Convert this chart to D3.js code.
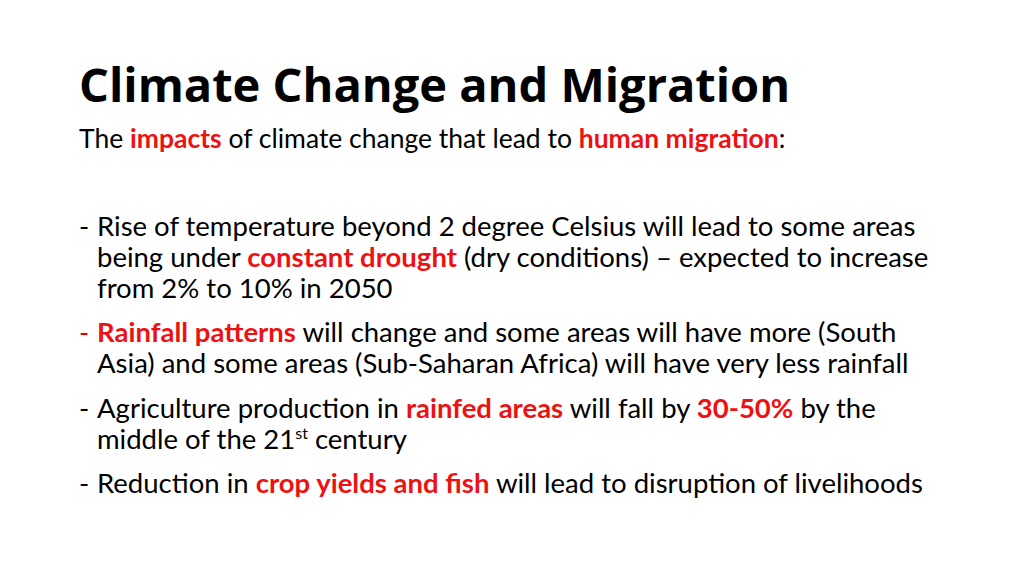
<!DOCTYPE html>
<html><head><meta charset="utf-8">
<script src="https://cdn.jsdelivr.net/npm/d3@7"></script>
<style>body{margin:0;background:#fff}</style></head>
<body><svg id="s" width="1024" height="575"></svg>
<script>
const title = "Climate Change and Migration";
const subtitle = [["The ",0],["impacts",1],[" of climate change that lead to ",0],["human migration",1],[":",0]];
const bullets = [
  [[["Rise of temperature beyond 2 degree Celsius will lead to some areas",0]],
   [["being under ",0],["constant drought",1],[" (dry conditions) – expected to increase",0]],
   [["from 2% to 10% in 2050",0]]],
  [[["Rainfall patterns",1],[" will change and some areas will have more (South",0]],
   [["Asia) and some areas (Sub-Saharan Africa) will have very less rainfall",0]]],
  [[["Agriculture production in ",0],["rainfed areas",1],[" will fall by ",0],["30-50%",1],[" by the",0]],
   [["middle of the 21",0],["st",2],[" century",0]]],
  [[["Reduction in ",0],["crop yields and fish",1],[" will lead to disruption of livelihoods",0]]]
];
const bulletColors = ["#000","#e00","#000","#000"];
const lineStarts = [236,342,418,493];
const lh = 31;
const svg = d3.select("#s");
const red = "#ee1111";
svg.append("text").attr("x",79).attr("y",102).attr("font-family","Open Sans").attr("font-weight","bold")
  .attr("font-size",47).text(title);
function seg(t, parts){
  let prevSup=false;
  parts.forEach(([s,k])=>{
    const ts=t.append("tspan").text(s);
    if(k===1) ts.attr("fill",red).attr("font-weight","bold");
    if(k===2) ts.attr("font-size",16).attr("dy",-10);
    else if(prevSup) ts.attr("dy",10);
    prevSup = k===2;
  });
}
const st = svg.append("text").attr("x",79).attr("y",148).attr("font-family","Lato").attr("font-size",26.5);
seg(st, subtitle);
bullets.forEach((b,i)=>{
  svg.append("text").attr("x",79).attr("y",lineStarts[i]).attr("font-family","Lato").attr("font-size",27.5)
    .attr("fill",bulletColors[i]).text("-");
  b.forEach((ln,j)=>{
    const t = svg.append("text").attr("x",97).attr("y",lineStarts[i]+j*lh).attr("font-family","Lato").attr("font-size",27.5);
    seg(t, ln);
  });
});
</script></body></html>
